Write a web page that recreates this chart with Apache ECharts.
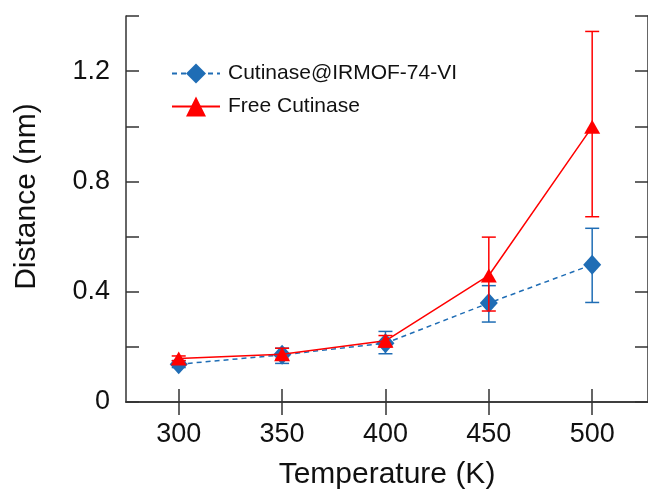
<!DOCTYPE html>
<html>
<head>
<meta charset="utf-8">
<script src="https://cdn.jsdelivr.net/npm/echarts@6/dist/echarts.min.js"></script>
<style>
html,body{margin:0;padding:0;background:#fff;}
#chart{width:648px;height:497px;}
</style>
</head>
<body>
<div id="chart"></div>
<script>
// ---- data ----
const temperatures = [300, 350, 400, 450, 500];
const xTickLabels = [300, 350, 400, 450, 500];
const yTickLabels = [0, 0.4, 0.8, 1.2];
const mofNames = 'Cutinase@IRMOF-74-VI';
const freeNames = 'Free Cutinase';
const mofValues = [0.137, 0.171, 0.213, 0.359, 0.498];
const mofLow    = [0.125, 0.140, 0.175, 0.290, 0.361];
const mofHigh   = [0.150, 0.195, 0.256, 0.422, 0.630];
const freeValues = [0.158, 0.173, 0.222, 0.459, 0.998];
const freeLow    = [0.150, 0.155, 0.200, 0.330, 0.672];
const freeHigh   = [0.167, 0.195, 0.241, 0.598, 1.344];

const BLUE = '#1f6db5';
const RED = '#ff0000';
const FONT = "'Liberation Sans', Arial, sans-serif";

function pairs(xs, ys){ return xs.map((x,i)=>[x, ys[i]]); }
function triples(xs, lo, hi){ return xs.map((x,i)=>[x, lo[i], hi[i]]); }

function errRender(color){
  return function(params, api){
    const x = api.value(0);
    const lo = api.coord([x, api.value(1)]);
    const hi = api.coord([x, api.value(2)]);
    const w = 7;
    const st = {stroke: color, lineWidth: 1.5};
    return {type:'group', children:[
      {type:'line', shape:{x1:lo[0], y1:lo[1], x2:hi[0], y2:hi[1]}, style:st},
      {type:'line', shape:{x1:lo[0]-w, y1:lo[1], x2:lo[0]+w, y2:lo[1]}, style:st},
      {type:'line', shape:{x1:hi[0]-w, y1:hi[1], x2:hi[0]+w, y2:hi[1]}, style:st}
    ]};
  };
}

const axisLineStyle = {color:'#333', width:1.5};
const tickStyle = {color:'#333', width:1.5};

const chart = echarts.init(document.getElementById('chart'), null, {renderer:'canvas'});
chart.setOption({
  animation:false,
  backgroundColor:'#fff',
  grid:{left:126, top:16, right:-1, bottom:95},
  legend:{
    orient:'vertical', left:171, top:63, padding:0,
    itemWidth:48, itemHeight:25, itemGap:12,
    textStyle:{fontFamily:FONT, fontSize:21, color:'#111', padding:[0,0,0,3]},
    data:[mofNames, freeNames]
  },
  xAxis:[{
    type:'value', min:274.5, max:527,
    name:'Temperature (K)', nameLocation:'middle', nameGap:58,
    nameTextStyle:{fontFamily:FONT, fontSize:30, color:'#111'},
    axisLine:{show:true, lineStyle:axisLineStyle},
    axisTick:{show:true, inside:true, length:13, lineStyle:tickStyle, customValues:xTickLabels},
    axisLabel:{show:true, margin:19, fontFamily:FONT, fontSize:27, color:'#111', customValues:xTickLabels},
    splitLine:{show:false}
  },{
    type:'value', min:274.5, max:527, position:'top',
    axisLine:{show:true, lineStyle:axisLineStyle},
    axisTick:{show:true, inside:true, length:13, lineStyle:tickStyle, customValues:xTickLabels},
    axisLabel:{show:false},
    splitLine:{show:false}
  }],
  yAxis:[{
    type:'value', min:0, max:1.4, interval:0.2,
    name:'Distance (nm)', nameLocation:'middle', nameGap:84,
    nameTextStyle:{fontFamily:FONT, fontSize:30, color:'#111', padding:[0,0,0,25]},
    axisLine:{show:true, lineStyle:axisLineStyle},
    axisTick:{show:true, inside:true, length:13, lineStyle:tickStyle},
    axisLabel:{show:true, margin:16, fontFamily:FONT, fontSize:27, color:'#111', customValues:yTickLabels,
      formatter:function(v){ return String(Math.round(v*10)/10); }},
    splitLine:{show:false}
  },{
    type:'value', min:0, max:1.4, interval:0.2, position:'right',
    axisLine:{show:true, lineStyle:axisLineStyle},
    axisTick:{show:true, inside:true, length:13, lineStyle:tickStyle},
    axisLabel:{show:false},
    splitLine:{show:false}
  }],
  series:[
    {
      type:'custom', name:mofNames+' err', renderItem:errRender(BLUE),
      data:triples(temperatures, mofLow, mofHigh), z:2, silent:true,
      encode:{x:0, y:[1,2]}
    },
    {
      type:'line', name:mofNames, data:pairs(temperatures, mofValues),
      symbol:'diamond', symbolSize:[18,20],
      lineStyle:{color:BLUE, width:1.5, type:[5,4]},
      itemStyle:{color:BLUE}, z:3
    },
    {
      type:'custom', name:freeNames+' err', renderItem:errRender(RED),
      data:triples(temperatures, freeLow, freeHigh), z:4, silent:true,
      encode:{x:0, y:[1,2]}
    },
    {
      type:'line', name:freeNames, data:pairs(temperatures, freeValues),
      symbol:'triangle', symbolSize:[16,14],
      lineStyle:{color:RED, width:1.5},
      itemStyle:{color:RED}, z:5
    }
  ]
});
</script>
</body>
</html>
